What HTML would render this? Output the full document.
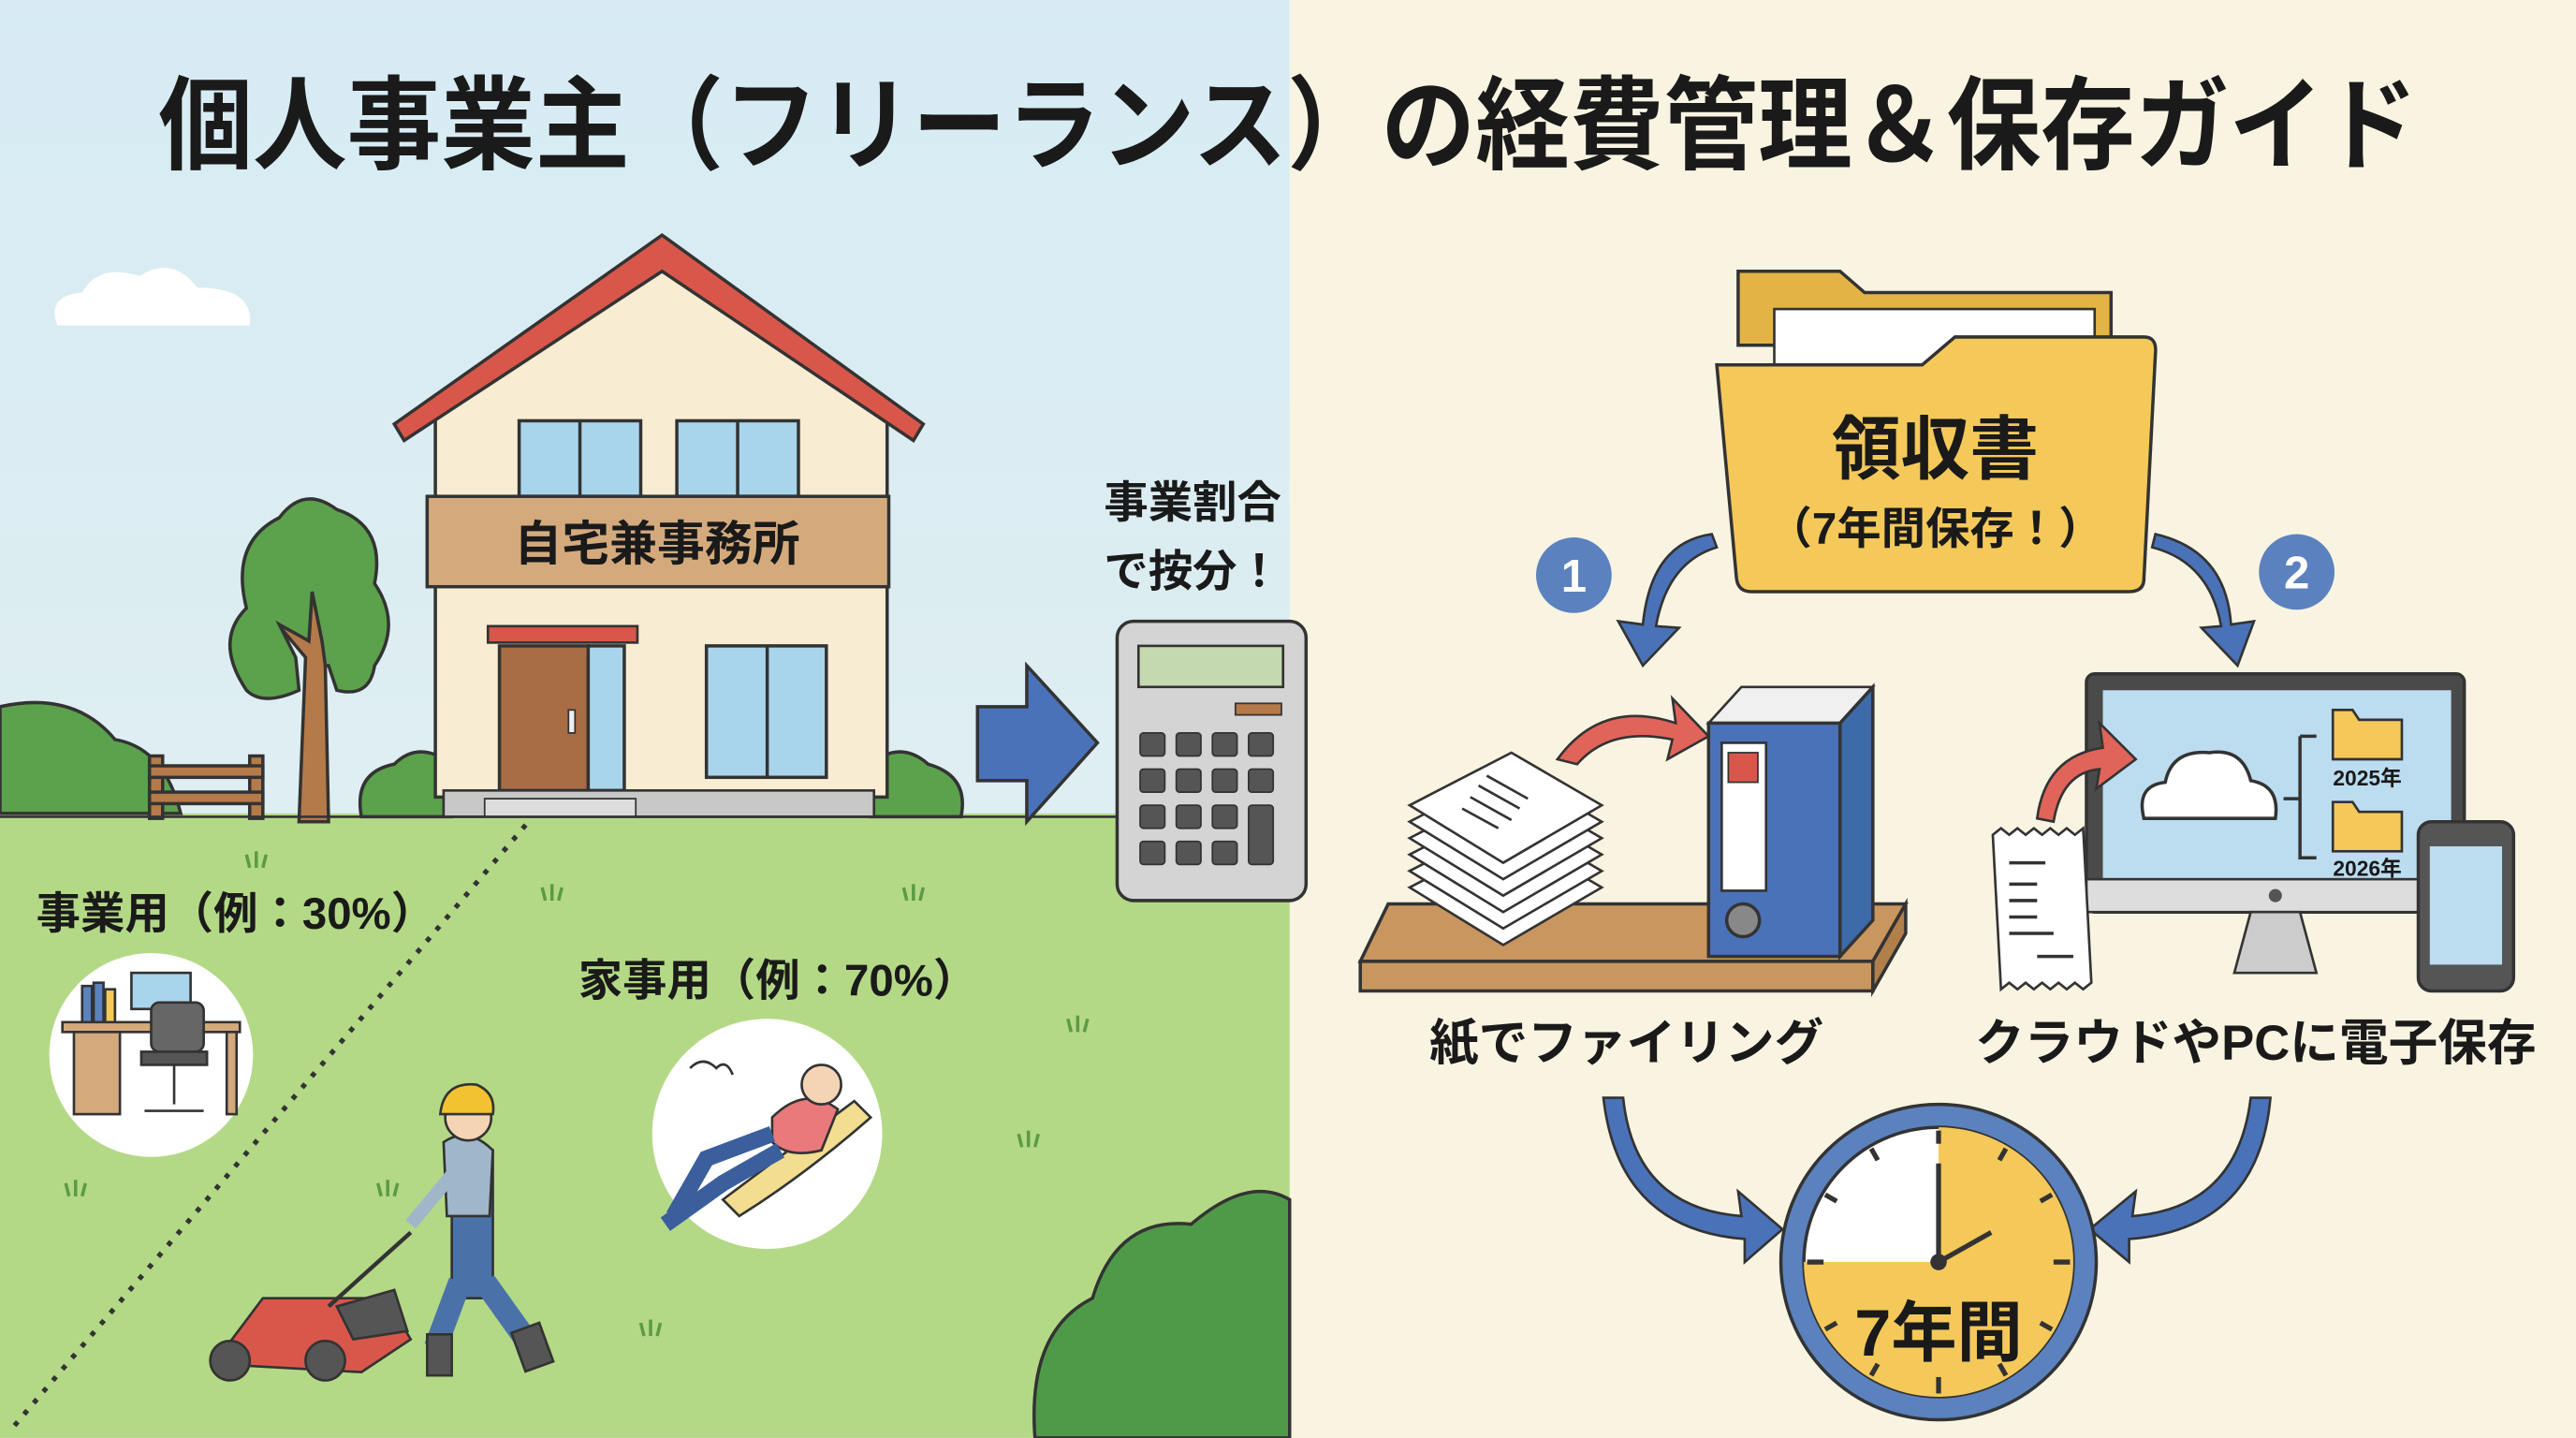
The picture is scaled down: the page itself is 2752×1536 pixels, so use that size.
<!DOCTYPE html>
<html><head><meta charset="utf-8"><style>
html,body{margin:0;padding:0;width:2752px;height:1536px;overflow:hidden;background:#f9f4e3}
svg{display:block}
text{font-family:"Liberation Sans","Noto Sans CJK JP",sans-serif;font-weight:bold;fill:#1a1a1a}
</style></head><body>
<svg width="2752" height="1536" viewBox="0 0 1568 875" xmlns="http://www.w3.org/2000/svg">
<defs>
<linearGradient id="sky" x1="0" y1="0" x2="0" y2="1"><stop offset="0" stop-color="#d7ebf4"/><stop offset="1" stop-color="#e4f0f0"/></linearGradient>
</defs>
<rect x="0" y="0" width="785" height="875" fill="url(#sky)"/>
<rect x="785" y="0" width="783" height="875" fill="#f9f4e2"/>
<rect x="0" y="495" width="785" height="380" fill="#b4d986"/>
<path d="M0 430 Q45 420 70 450 Q100 455 110 495 L0 495Z" fill="#5ca14c" stroke="#333" stroke-width="2"/>
<path d="M35 198 Q28 180 50 178 Q60 160 85 168 Q105 155 120 175 Q155 175 152 198Z" fill="#fff"/>
<text x="784" y="98" font-size="62" text-anchor="middle" textLength="1375" lengthAdjust="spacingAndGlyphs">個人事業主（フリーランス）の経費管理＆保存ガイド</text>
<g fill="#b57a4a" stroke="#333" stroke-width="2"><rect x="91" y="460" width="8" height="38"/><rect x="152" y="460" width="8" height="38"/><rect x="91" y="466" width="69" height="7"/><rect x="91" y="482" width="69" height="7"/></g>
<path d="M182 500 L186 400 L165 375 L188 390 L190 360 L196 390 L210 372 L198 405 L200 500Z" fill="#b57a4a" stroke="#333" stroke-width="2"/>
<path d="M150 420 Q130 390 150 370 Q140 330 170 315 Q185 295 205 310 Q235 320 228 355 Q245 380 228 405 Q225 425 205 420 L200 405 L198 405 L196 390 L190 360 L188 390 L170 380 L180 400 L182 420 Q160 430 150 420Z" fill="#5ca14c" stroke="#333" stroke-width="2"/>
<path d="M220 497 Q215 470 240 465 Q255 450 275 465 L275 497Z" fill="#5ca14c" stroke="#333" stroke-width="2"/>
<path d="M530 497 L530 465 Q548 450 565 465 Q590 472 585 497Z" fill="#5ca14c" stroke="#333" stroke-width="2"/>
<path d="M265 485 L265 250 L403 155 L540 250 L540 485Z" fill="#f8ecd2" stroke="#333" stroke-width="2"/>
<path d="M240 258 L403 143 L562 258 L556 268 L403 165 L246 268Z" fill="#d9574a" stroke="#333" stroke-width="2"/>
<g fill="#a9d5ec" stroke="#333" stroke-width="2">
<rect x="316" y="256" width="74" height="46"/><line x1="353" y1="256" x2="353" y2="302"/>
<rect x="412" y="256" width="74" height="46"/><line x1="449" y1="256" x2="449" y2="302"/>
<rect x="430" y="393" width="73" height="80"/><line x1="467" y1="393" x2="467" y2="473"/>
<rect x="358" y="393" width="22" height="88"/>
</g>
<rect x="260" y="302" width="281" height="55" fill="#d4aa7d" stroke="#333" stroke-width="2"/>
<text x="400" y="341" font-size="29" text-anchor="middle">自宅兼事務所</text>
<rect x="297" y="381" width="91" height="10" fill="#d9574a" stroke="#333" stroke-width="1.5"/>
<rect x="304" y="393" width="54" height="88" fill="#a86d45" stroke="#333" stroke-width="2"/>
<rect x="346" y="432" width="4" height="14" fill="#eee" stroke="#333" stroke-width="1"/>
<rect x="270" y="481" width="262" height="16" fill="#c8c8c8" stroke="#333" stroke-width="1.5"/>
<rect x="295" y="486" width="92" height="11" fill="#ddd" stroke="#333" stroke-width="1"/>
<line x1="0" y1="497" x2="785" y2="497" stroke="#333" stroke-width="1.5"/>
<line x1="320" y1="502" x2="5" y2="872" stroke="#333" stroke-width="3" stroke-dasharray="3 6"/>
<g stroke="#5b9b44" stroke-width="2" fill="none">
<path d="M150 520l2 8M156 518v10M162 520l-2 8"/><path d="M330 540l2 8M336 538v10M342 540l-2 8"/><path d="M550 540l2 8M556 538v10M562 540l-2 8"/><path d="M70 640l2 8M76 638v10M82 640l-2 8"/><path d="M650 620l2 8M656 618v10M662 620l-2 8"/><path d="M620 690l2 8M626 688v10M632 690l-2 8"/><path d="M40 720l2 8M46 718v10M52 720l-2 8"/><path d="M230 720l2 8M236 718v10M242 720l-2 8"/><path d="M390 805l2 8M396 803v10M402 805l-2 8"/></g>
<text x="22" y="565" font-size="27">事業用（例：30%）</text>
<text x="352" y="606" font-size="27">家事用（例：70%）</text>
<circle cx="92" cy="642" r="62" fill="#fff"/>
<g stroke="#333" stroke-width="1.5">
<rect x="50" y="600" width="6" height="22" fill="#5b82bf"/><rect x="57" y="598" width="6" height="24" fill="#5b82bf"/><rect x="64" y="602" width="6" height="20" fill="#f4c95a"/>
<rect x="80" y="592" width="36" height="22" fill="#a9d5ec"/>
<rect x="38" y="622" width="108" height="6" fill="#d4aa7d"/>
<rect x="45" y="628" width="28" height="50" fill="#d4aa7d"/>
<rect x="138" y="628" width="6" height="50" fill="#d4aa7d"/>
<rect x="92" y="610" width="32" height="30" rx="5" fill="#666"/>
<rect x="86" y="640" width="40" height="8" fill="#555"/>
<line x1="106" y1="648" x2="106" y2="672"/><line x1="88" y1="676" x2="124" y2="676"/>
</g>
<circle cx="467" cy="690" r="70" fill="#fff"/>
<path d="M440 730 Q480 700 520 670 L530 680 Q490 715 450 740Z" fill="#f2dd90" stroke="#333" stroke-width="1.5"/>
<path d="M470 680 Q490 660 510 675 L500 700 Q480 705 470 695Z" fill="#e9797a" stroke="#333" stroke-width="1.5"/>
<circle cx="500" cy="660" r="12" fill="#f5d4b5" stroke="#333" stroke-width="1.5"/>
<path d="M470 690 L430 705 L410 740 M475 700 L440 720 L405 745" stroke="#3b5f9c" stroke-width="10" fill="none"/>
<path d="M420 650 q8 -8 16 0 q6 -6 10 4" stroke="#333" fill="none" stroke-width="1.5"/>
<g stroke="#333" stroke-width="1.5">
<path d="M130 830 L160 790 L235 790 L250 815 L220 835Z" fill="#d9574a"/>
<path d="M205 795 L240 785 L248 810 L215 815Z" fill="#555"/>
<circle cx="140" cy="828" r="12" fill="#555"/><circle cx="198" cy="828" r="12" fill="#555"/>
<line x1="200" y1="795" x2="250" y2="750" stroke-width="2.5"/>
<rect x="275" y="700" width="25" height="90" fill="#4a72a8"/>
<path d="M280 780 L265 820 M295 780 L320 815" stroke="#4a72a8" stroke-width="14"/>
<rect x="260" y="812" width="15" height="25" fill="#555"/><rect x="315" y="808" width="18" height="25" fill="#555" transform="rotate(-20 322 820)"/>
<path d="M270 695 Q285 685 300 700 L298 740 L272 740Z" fill="#9fb7c9"/>
<line x1="275" y1="715" x2="250" y2="745" stroke="#9fb7c9" stroke-width="8"/>
<circle cx="285" cy="680" r="14" fill="#f5d4b5"/>
<path d="M268 678 Q270 658 290 660 Q302 665 300 678Z" fill="#f2c230"/>
</g>
<path d="M630 875 Q625 810 665 790 Q680 740 725 745 Q760 715 785 730 L785 875Z" fill="#4f9a48" stroke="#333" stroke-width="2"/>
<path d="M595 430 L625 430 L625 405 L668 452 L625 500 L625 475 L595 475Z" fill="#4a72b8" stroke="#333" stroke-width="2"/>
<text x="672" y="315" font-size="27">事業割合</text>
<text x="672" y="357" font-size="27">で按分！</text>
<rect x="680" y="378" width="115" height="170" rx="10" fill="#d4d4d4" stroke="#333" stroke-width="2"/>
<rect x="693" y="393" width="88" height="25" fill="#c5d9b0" stroke="#333" stroke-width="1.5"/>
<rect x="752" y="428" width="28" height="7" fill="#b57a4a" stroke="#333" stroke-width="1"/>
<g fill="#555" stroke="#333">
<rect x="694" y="446" width="15" height="14" rx="2"/><rect x="716" y="446" width="15" height="14" rx="2"/><rect x="738" y="446" width="15" height="14" rx="2"/><rect x="760" y="446" width="15" height="14" rx="2"/>
<rect x="694" y="468" width="15" height="14" rx="2"/><rect x="716" y="468" width="15" height="14" rx="2"/><rect x="738" y="468" width="15" height="14" rx="2"/><rect x="760" y="468" width="15" height="14" rx="2"/>
<rect x="694" y="490" width="15" height="14" rx="2"/><rect x="716" y="490" width="15" height="14" rx="2"/><rect x="738" y="490" width="15" height="14" rx="2"/><rect x="760" y="490" width="15" height="36" rx="2"/>
<rect x="694" y="512" width="15" height="14" rx="2"/><rect x="716" y="512" width="15" height="14" rx="2"/><rect x="738" y="512" width="15" height="14" rx="2"/>
</g>
<path d="M1058 165 L1120 165 L1135 178 L1285 178 L1285 210 L1058 210Z" fill="#e3b445" stroke="#333" stroke-width="2"/>
<rect x="1080" y="188" width="195" height="40" fill="#fff" stroke="#333" stroke-width="1.5"/>
<path d="M1045 222 L1170 222 L1190 205 L1305 205 Q1313 205 1312 215 L1305 352 Q1305 360 1296 360 L1066 360 Q1058 360 1057 352Z" fill="#f4c95a" stroke="#333" stroke-width="2"/>
<text x="1178" y="288" font-size="42" text-anchor="middle">領収書</text>
<text x="1178" y="331" font-size="27" text-anchor="middle">（7年間保存！）</text>
<circle cx="958" cy="350" r="23" fill="#5b82bf"/><text x="958" y="360" font-size="28" text-anchor="middle" style="fill:#fff">1</text>
<circle cx="1398" cy="348" r="23" fill="#5b82bf"/><text x="1398" y="358" font-size="28" text-anchor="middle" style="fill:#fff">2</text>
<g fill="#4a72b8" stroke="#333" stroke-width="1.5">
<path d="M1042 325 Q1005 330 1000 380 L985 378 L1000 405 L1022 382 L1008 381 Q1015 342 1045 333Z"/>
<path d="M1312 325 Q1355 335 1358 380 L1372 378 L1362 405 L1340 382 L1352 381 Q1345 342 1310 333Z"/>
<path d="M988 668 Q995 735 1060 740 L1058 725 L1085 748 L1062 768 L1062 754 Q985 748 976 668Z"/>
<path d="M1370 668 Q1362 735 1298 740 L1300 725 L1272 748 L1296 768 L1296 754 Q1375 748 1382 668Z"/>
</g>
<path d="M845 550 L1160 550 L1140 585 L828 585Z" fill="#c9965f" stroke="#333" stroke-width="2"/>
<rect x="828" y="585" width="312" height="18" fill="#c9965f" stroke="#333" stroke-width="2"/>
<path d="M1140 585 L1160 550 L1160 568 L1140 603Z" fill="#b07f4b" stroke="#333" stroke-width="2"/>
<g fill="#fff" stroke="#333" stroke-width="1.5">
<path d="M858 540 L920 508 L975 540 L915 575Z"/><path d="M858 530 L920 498 L975 530 L915 565Z"/><path d="M858 520 L920 488 L975 520 L915 555Z"/><path d="M858 510 L920 478 L975 510 L915 545Z"/><path d="M858 500 L920 468 L975 500 L915 535Z"/><path d="M858 490 L920 458 L975 490 L915 525Z"/>
</g>
<g stroke="#333" stroke-width="1.5"><line x1="900" y1="478" x2="925" y2="492"/><line x1="895" y1="485" x2="920" y2="499"/><line x1="890" y1="492" x2="912" y2="504"/><line x1="905" y1="472" x2="930" y2="486"/></g>
<path d="M948 462 Q975 425 1020 440 L1018 425 L1040 448 L1015 462 L1018 450 Q980 442 960 465Z" fill="#e0645a" stroke="#333" stroke-width="1.5"/>
<path d="M1040 440 L1060 418 L1140 418 L1120 440Z" fill="#f0f0f0" stroke="#333" stroke-width="1.5"/>
<path d="M1120 440 L1140 418 L1140 560 L1120 582Z" fill="#3d6aa8" stroke="#333" stroke-width="2"/>
<rect x="1040" y="440" width="80" height="142" fill="#4a72b8" stroke="#333" stroke-width="2"/>
<rect x="1048" y="452" width="27" height="90" fill="#fff" stroke="#333" stroke-width="1.5"/>
<rect x="1052" y="458" width="18" height="18" fill="#d9574a" stroke="#333" stroke-width="1"/>
<circle cx="1061" cy="560" r="10" fill="#888" stroke="#333" stroke-width="2"/>
<rect x="1270" y="410" width="230" height="145" rx="5" fill="#4a4a4a" stroke="#333" stroke-width="2"/>
<rect x="1280" y="420" width="212" height="115" fill="#bcdcf0"/>
<rect x="1270" y="535" width="230" height="20" fill="#ddd" stroke="#333" stroke-width="1.5"/>
<circle cx="1385" cy="545" r="4" fill="#555"/>
<path d="M1370 555 L1400 555 L1410 592 L1360 592Z" fill="#ccc" stroke="#333" stroke-width="1.5"/>
<path d="M1305 498 Q1300 478 1318 476 Q1322 456 1345 458 Q1365 455 1370 475 Q1388 478 1385 498Z" fill="#fff" stroke="#333" stroke-width="2"/>
<path d="M1390 486 L1400 486 M1400 448 L1400 522 L1410 522 M1400 448 L1410 448" stroke="#333" stroke-width="2" fill="none"/>
<path d="M1420 432 L1432 432 L1436 438 L1462 438 L1462 462 L1420 462Z" fill="#f4c95a" stroke="#333" stroke-width="1.5"/>
<path d="M1420 488 L1432 488 L1436 494 L1462 494 L1462 518 L1420 518Z" fill="#f4c95a" stroke="#333" stroke-width="1.5"/>
<text x="1441" y="478" font-size="13" text-anchor="middle">2025年</text>
<text x="1441" y="533" font-size="13" text-anchor="middle">2026年</text>
<path d="M1240 498 Q1245 460 1280 455 L1278 440 L1300 462 L1276 480 L1278 468 Q1255 470 1250 500Z" fill="#e0645a" stroke="#333" stroke-width="1.5"/>
<path d="M1213 508 l5 -4 5 4 5 -4 5 4 5 -4 5 4 5 -4 5 4 5 -4 5 4 5 -4 L1273 598 l-5 4 -5 -4 -5 4 -5 -4 -5 4 -5 -4 -5 4 -5 -4 -5 4 -5 -4 -5 4Z" fill="#fff" stroke="#333" stroke-width="1.5"/>
<g stroke="#333" stroke-width="2"><line x1="1223" y1="525" x2="1245" y2="525"/><line x1="1223" y1="538" x2="1240" y2="538"/><line x1="1223" y1="548" x2="1240" y2="548"/><line x1="1223" y1="558" x2="1240" y2="558"/><line x1="1223" y1="568" x2="1250" y2="568"/><line x1="1240" y1="582" x2="1262" y2="582"/></g>
<rect x="1472" y="500" width="58" height="103" rx="8" fill="#555" stroke="#333" stroke-width="2"/>
<rect x="1479" y="515" width="44" height="72" fill="#bcdcf0"/>
<text x="990" y="645" font-size="30" text-anchor="middle">紙でファイリング</text>
<text x="1373" y="645" font-size="30" text-anchor="middle">クラウドやPCに電子保存</text>
<circle cx="1180" cy="768" r="96" fill="#5b82bf" stroke="#333" stroke-width="2"/>
<circle cx="1180" cy="768" r="82" fill="#fff" stroke="#333" stroke-width="2"/>
<path d="M1098 768 A82 82 0 0 0 1262 768Z" fill="#f4c95a"/>
<path d="M1180 686 A82 82 0 0 1 1262 768 L1180 768Z" fill="#f4c95a"/>
<g stroke="#333" stroke-width="3"><line x1="1180" y1="768" x2="1180" y2="708"/><line x1="1180" y1="768" x2="1212" y2="750"/>
<line x1="1100" y1="768" x2="1110" y2="768"/><line x1="1250" y1="768" x2="1260" y2="768"/><line x1="1180" y1="838" x2="1180" y2="848"/><line x1="1180" y1="688" x2="1180" y2="696"/>
<line x1="1139" y1="699" x2="1143" y2="706"/><line x1="1221" y1="699" x2="1217" y2="706"/><line x1="1111" y1="727" x2="1118" y2="731"/><line x1="1249" y1="727" x2="1242" y2="731"/>
<line x1="1111" y1="809" x2="1118" y2="805"/><line x1="1249" y1="809" x2="1242" y2="805"/><line x1="1139" y1="837" x2="1143" y2="830"/><line x1="1221" y1="837" x2="1217" y2="830"/></g>
<circle cx="1180" cy="768" r="5" fill="#333"/>
<text x="1180" y="825" font-size="40" text-anchor="middle">7年間</text>
</svg>
</body></html>
